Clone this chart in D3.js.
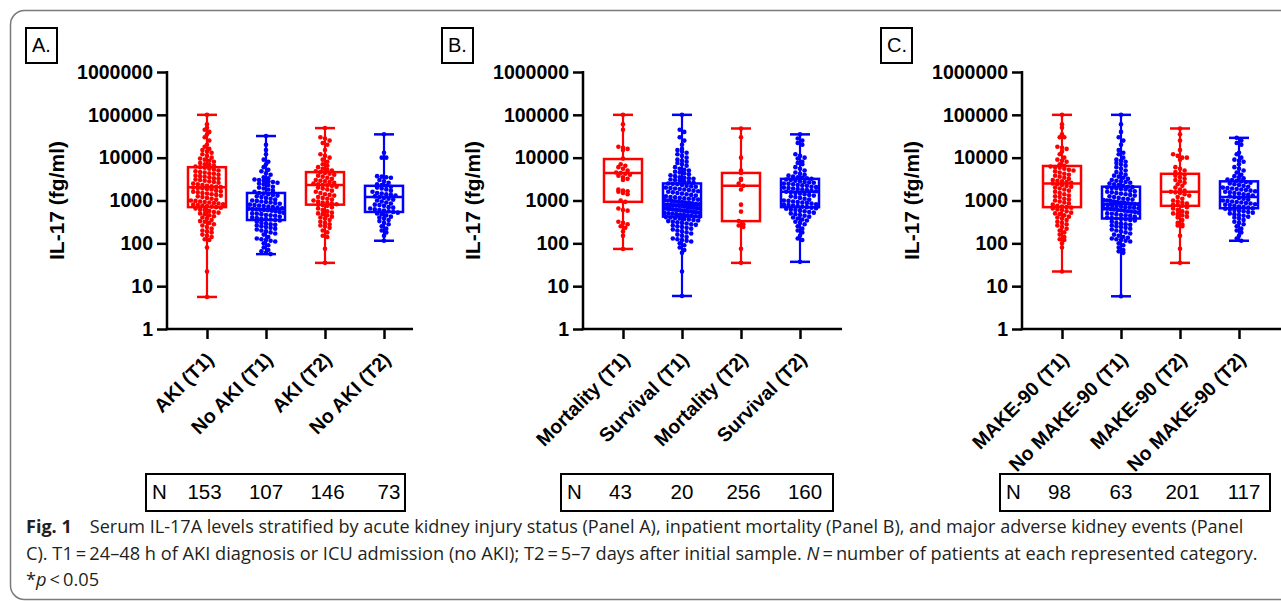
<!DOCTYPE html>
<html><head><meta charset="utf-8">
<script src="https://cdn.jsdelivr.net/npm/d3@7/dist/d3.min.js"></script>
<style>body{margin:0;background:#fff;overflow:hidden} svg{display:block}</style>
</head><body><svg id="chart" width="1281" height="601"></svg>
<script>
// ---------------- DATA ----------------
const panelLetters = ["A.", "B.", "C."];
const categoriesA = ["AKI (T1)", "No AKI (T1)", "AKI (T2)", "No AKI (T2)"];
const categoriesB = ["Mortality (T1)", "Survival (T1)", "Mortality (T2)", "Survival (T2)"];
const categoriesC = ["MAKE-90 (T1)", "No MAKE-90 (T1)", "MAKE-90 (T2)", "No MAKE-90 (T2)"];
const countsA = [153, 107, 146, 73];
const countsB = [43, 20, 256, 160];
const countsC = [98, 63, 201, 117];
const yTickValues = [1, 10, 100, 1000, 10000, 100000, 1000000];
const groupColors = ["#ff0000", "#0000ff", "#ff0000", "#0000ff"];
// box statistics: [min, q1, median, q3, max]
const boxA = [[5.6, 700, 2050, 6000, 100000], [56, 350, 630, 1500, 32000], [35, 800, 2300, 4600, 49000], [115, 540, 1200, 2200, 35000]];
const boxB = [[74, 930, 4400, 9300, 100000], [5.9, 420, 800, 2500, 100000], [35, 330, 2200, 4400, 48000], [37, 700, 1600, 3200, 35000]];
const boxC = [[22, 700, 2500, 6400, 100000], [5.8, 380, 830, 2100, 100000], [35, 750, 1600, 4200, 48000], [115, 660, 1200, 2800, 29000]];
// individual points (fg/ml)
const pointsA1 = [100000,60000,50000,45000,40000,35000,30000,25000,20000,18000,16000,15000,14000,13000,12000,11000,10000,9500,9000,8500,8000,7500,7000,6800,6500,6200,6000,5800,5500,5300,5000,4800,4600,4500,4300,4200,4000,3800,3700,3600,3500,3300,3200,3100,3000,2900,2800,2700,2600,2500,2400,2300,2200,2150,2100,2050,2000,1950,1900,1850,1800,1700,1650,1600,1550,1500,1450,1400,1350,1300,1250,1200,1150,1100,1050,1000,980,950,920,900,870,850,820,800,780,760,740,720,700,680,650,620,600,570,540,520,500,480,450,430,400,380,350,330,320,300,280,260,240,220,200,190,180,160,150,140,125,120,80,22,5.6];
const pointsA2 = [32000,20000,15000,12000,9000,8000,7000,6000,5200,4800,4300,4000,3500,3300,3100,3000,2900,2800,2700,2600,2500,2400,2300,2100,2000,1900,1800,1700,1600,1500,1450,1400,1350,1300,1250,1200,1150,1100,1050,1000,980,950,920,900,870,840,800,780,760,740,720,700,680,660,640,630,620,610,600,590,580,560,540,520,500,490,480,460,450,440,420,400,390,380,370,360,350,340,320,300,290,280,270,260,250,240,230,220,210,200,190,180,170,160,140,130,125,120,115,110,100,90,80,70,65,60,56];
const pointsA3 = [49000,30000,28000,25000,22000,20000,15000,12000,11000,10000,9000,8000,7000,6500,6000,5500,5200,5000,4800,4600,4400,4200,4000,3800,3600,3400,3200,3000,2900,2800,2700,2600,2500,2400,2300,2250,2200,2100,2000,1900,1800,1700,1600,1500,1400,1350,1300,1200,1150,1100,1050,1000,950,900,880,850,820,800,780,750,700,650,600,560,520,500,480,450,420,400,380,350,320,300,280,260,250,230,200,180,150,140,75,35];
const pointsA4 = [35000,13000,10000,10000,3700,3600,3500,3400,3000,2800,2600,2400,2300,2200,2100,2000,1900,1800,1700,1600,1500,1450,1400,1350,1300,1250,1200,1150,1100,1050,1000,950,900,850,800,780,750,700,680,650,620,600,580,560,540,520,500,480,450,420,400,380,350,330,300,280,250,220,200,180,150,115];
const pointsB1 = [100000,60000,45000,18000,17000,16000,15000,9500,7000,6500,6000,5500,5000,4500,4400,4200,4000,3800,3500,3200,3000,1800,1700,1650,1600,1500,1400,1000,930,650,600,580,320,300,280,250,230,190,150,74];
const pointsB2 = [100000,45000,40000,30000,25000,20000,16000,15000,14000,13000,12000,11000,10000,9000,8500,8000,7500,7000,6500,6000,5500,5200,5000,4700,4500,4300,4100,3900,3700,3500,3400,3300,3200,3100,3000,2900,2800,2700,2600,2500,2450,2400,2300,2200,2150,2100,2000,1950,1900,1850,1800,1750,1700,1650,1600,1550,1500,1450,1400,1350,1300,1250,1200,1180,1150,1120,1100,1080,1050,1020,1000,980,960,940,920,900,880,860,840,820,800,790,780,770,760,750,740,720,700,690,680,670,660,650,640,630,620,610,600,590,580,570,560,550,540,530,520,510,500,490,480,470,460,450,440,430,420,410,400,390,380,370,360,350,340,330,320,310,300,290,280,270,260,250,240,230,220,210,200,190,180,170,160,150,140,130,125,120,115,110,100,90,80,70,60,22,5.9];
const pointsB3 = [48000,30000,10000,5000,4400,3200,3000,2500,2200,1800,800,550,330,280,260,240,75,35];
const pointsB4 = [35000,28000,25000,22000,20000,12000,11000,10000,9500,8000,7500,7000,6000,5500,5000,4500,4200,4000,3800,3600,3500,3400,3300,3200,3100,3000,2900,2800,2700,2650,2600,2500,2450,2400,2300,2250,2200,2100,2050,2000,1950,1900,1850,1800,1750,1700,1650,1600,1550,1500,1450,1400,1350,1300,1250,1200,1150,1100,1050,1000,980,950,920,900,880,850,820,800,780,760,740,720,700,680,660,640,620,600,580,560,540,520,500,480,460,440,420,400,380,360,340,320,300,280,250,220,200,180,150,130,120,37];
const pointsC1 = [100000,60000,50000,35000,30000,30000,18000,17000,16000,14000,12000,10000,9000,8500,8000,7000,6500,6200,6000,5800,5500,5200,5000,4800,4500,4200,4000,3800,3600,3400,3200,3000,2900,2800,2700,2600,2500,2400,2300,2200,2100,2000,1900,1800,1700,1600,1500,1400,1300,1250,1200,1100,1050,1000,950,900,850,800,750,720,700,680,650,620,600,560,520,500,480,450,420,400,380,350,320,300,280,260,240,220,200,180,160,140,125,120,100,80,22];
const pointsC2 = [100000,60000,40000,30000,25000,20000,15000,13000,12000,10000,9000,8500,8000,7500,7000,6500,6000,5500,5000,4600,4300,4000,3800,3600,3400,3200,3000,2900,2800,2700,2600,2500,2400,2300,2200,2100,2050,2000,1950,1900,1850,1800,1700,1650,1600,1550,1500,1450,1400,1350,1300,1250,1200,1150,1100,1080,1050,1020,1000,980,950,920,900,880,860,840,830,820,800,780,760,740,720,700,690,680,660,650,640,630,620,600,590,580,560,550,540,520,500,490,480,460,450,440,420,400,390,380,370,360,350,340,320,300,290,280,270,260,250,240,230,220,210,200,190,180,170,160,150,140,135,130,125,120,115,110,100,90,80,70,65,60,5.8];
const pointsC3 = [48000,35000,25000,15000,12000,11000,10000,10000,9000,6000,5500,5000,4600,4200,4000,3800,3500,3200,3000,2800,2600,2400,2200,2000,1800,1700,1600,1550,1500,1400,1300,1200,1100,1000,950,900,850,800,780,750,700,650,600,560,520,500,480,450,420,400,350,300,280,260,250,150,75,35];
const pointsC4 = [29000,25000,22000,20000,13000,12000,10000,9000,8500,8000,7000,6000,5500,5000,4500,4000,3700,3500,3300,3100,3000,2900,2800,2700,2600,2500,2400,2300,2200,2100,2000,1950,1900,1850,1800,1750,1700,1650,1600,1550,1500,1450,1400,1350,1300,1250,1200,1150,1100,1050,1000,980,950,920,900,870,850,820,800,780,750,720,700,680,660,640,620,600,580,560,540,520,500,480,460,440,420,400,380,350,320,300,280,250,220,200,180,150,130,115];
const captionLine1 = "Serum IL-17A levels stratified by acute kidney injury status (Panel A), inpatient mortality (Panel B), and major adverse kidney events (Panel";
const captionLine2a = "C). T1\u2009=\u200924\u201348 h of AKI diagnosis or ICU admission (no AKI); T2\u2009=\u20095\u20137 days after initial sample. ";
const captionLine2b = "\u2009=\u2009number of patients at each represented category.";

// ---------------- LAYOUT ----------------
const svg = d3.select("#chart");
const FONT = "'Liberation Sans', Arial, sans-serif";
const yTop = 72, yBottom = 329;
const y = d3.scaleLog().domain([1, 1e6]).range([yBottom, yTop]);

// outer frame
svg.append("rect").attr("x", 10.5).attr("y", 10.5).attr("width", 1320).attr("height", 589)
  .attr("rx", 14).attr("fill", "none").attr("stroke", "#7a7a7a").attr("stroke-width", 1.5);

const panels = [
  {letter: panelLetters[0], cats: categoriesA, counts: countsA, boxes: boxA, points: [pointsA1, pointsA2, pointsA3, pointsA4], axisX: 167, axisEnd: 413, tableW: 259, tableX: -21},
  {letter: panelLetters[1], cats: categoriesB, counts: countsB, boxes: boxB, points: [pointsB1, pointsB2, pointsB3, pointsB4], axisX: 583, axisEnd: 842, tableW: 272, tableX: -22},
  {letter: panelLetters[2], cats: categoriesC, counts: countsC, boxes: boxC, points: [pointsC1, pointsC2, pointsC3, pointsC4], axisX: 1022, axisEnd: 1290, tableW: 270, tableX: -22}
];

const boxW = 38, capW = 20, rowH = 4.2, dotR = 2.3, maxHalf = 17.5;

panels.forEach(p => {
  const g = svg.append("g");
  const x = d3.scalePoint().domain(p.cats).range([p.axisX + 40, p.axisX + 217]);

  // panel letter box
  g.append("rect").attr("x", p.axisX - 141).attr("y", 28).attr("width", 31).attr("height", 35)
    .attr("fill", "none").attr("stroke", "#000").attr("stroke-width", 2);
  g.append("text").attr("x", p.axisX - 135).attr("y", 52).attr("font-family", FONT)
    .attr("font-size", 20).text(p.letter);

  // y axis
  const yAxis = d3.axisLeft(y).tickValues(yTickValues).tickFormat(d3.format("d")).tickSize(10).tickPadding(4);
  const ya = g.append("g").attr("transform", `translate(${p.axisX},0)`).call(yAxis);
  ya.select(".domain").remove();
  ya.selectAll(".tick line").attr("stroke", "#000").attr("stroke-width", 2.5);
  ya.selectAll(".tick text").attr("font-family", FONT).attr("font-size", 19.5).attr("font-weight", "bold").attr("fill", "#000");
  g.append("line").attr("x1", p.axisX).attr("x2", p.axisX).attr("y1", yTop - 1).attr("y2", yBottom + 1.2)
    .attr("stroke", "#000").attr("stroke-width", 2.5);

  // y title
  g.append("text").attr("transform", `translate(${p.axisX - 110},${(yTop + yBottom) / 2}) rotate(-90)`)
    .attr("text-anchor", "middle").attr("dy", "0.35em").attr("font-family", FONT).attr("font-size", 21)
    .attr("font-weight", "bold").text("IL-17 (fg/ml)");

  // x axis
  g.append("line").attr("x1", p.axisX - 1.2).attr("x2", p.axisEnd).attr("y1", yBottom).attr("y2", yBottom)
    .attr("stroke", "#000").attr("stroke-width", 2.5);
  const xa = d3.axisBottom(x).tickSize(10).tickFormat("");
  const xg = g.append("g").attr("transform", `translate(0,${yBottom})`).call(xa);
  xg.select(".domain").remove();
  xg.selectAll(".tick line").attr("stroke", "#000").attr("stroke-width", 2.5);
  g.selectAll(".xlab").data(p.cats).join("text")
    .attr("transform", d => `translate(${x(d) + 3},356) rotate(-45)`)
    .attr("text-anchor", "end").attr("dy", "0.35em").attr("font-family", FONT).attr("font-size", 19.5)
    .attr("font-weight", "bold").text(d => d);

  // points (column scatter arranged in rows)
  p.cats.forEach((c, i) => {
    const cx = x(c);
    const pts = p.points[i].map(v => ({v, py: y(v)}));
    const rows = d3.group(pts, d => Math.round((d.py - yTop) / rowH));
    rows.forEach(arr => {
      const n = arr.length;
      const s = n > 1 ? Math.min(4.6, (2 * maxHalf) / (n - 1)) : 0;
      arr.forEach((d, k) => { d.px = cx + (k - (n - 1) / 2) * s; });
    });
    g.append("g").selectAll("circle").data(pts).join("circle")
      .attr("cx", d => d.px).attr("cy", d => d.py).attr("r", dotR).attr("fill", groupColors[i]);

    // box & whiskers
    const [mn, q1, md, q3, mx] = p.boxes[i];
    const col = groupColors[i];
    const bg = g.append("g").attr("stroke", col).attr("fill", "none");
    bg.append("line").attr("x1", cx).attr("x2", cx).attr("y1", y(mx)).attr("y2", y(q3)).attr("stroke-width", 2.2);
    bg.append("line").attr("x1", cx).attr("x2", cx).attr("y1", y(q1)).attr("y2", y(mn)).attr("stroke-width", 2.2);
    bg.append("line").attr("x1", cx - capW / 2).attr("x2", cx + capW / 2).attr("y1", y(mx)).attr("y2", y(mx)).attr("stroke-width", 2.5);
    bg.append("line").attr("x1", cx - capW / 2).attr("x2", cx + capW / 2).attr("y1", y(mn)).attr("y2", y(mn)).attr("stroke-width", 2.5);
    bg.append("rect").attr("x", cx - boxW / 2).attr("y", y(q3)).attr("width", boxW).attr("height", y(q1) - y(q3)).attr("stroke-width", 2.5);
    bg.append("line").attr("x1", cx - boxW / 2).attr("x2", cx + boxW / 2).attr("y1", y(md)).attr("y2", y(md)).attr("stroke-width", 2.5);
  });

  // N table
  const tx = p.axisX + p.tableX;
  g.append("rect").attr("x", tx).attr("y", 474).attr("width", p.tableW).attr("height", 37)
    .attr("fill", "none").attr("stroke", "#000").attr("stroke-width", 2);
  g.append("text").attr("x", tx + 6).attr("y", 499).attr("font-family", FONT).attr("font-size", 20.5).text("N");
  g.selectAll(".nval").data(p.counts).join("text")
    .attr("x", (d, i) => x(p.cats[i]) + (i - 1) * 2.5).attr("y", 499).attr("text-anchor", "middle")
    .attr("font-family", FONT).attr("font-size", 20.5).text(d => d);
});

// ---------------- CAPTION ----------------
const CF = "'Open Sans', 'Noto Sans', sans-serif";
const CS = 18;
function fitLine(t, x0, target) {
  const w = t.node().getComputedTextLength();
  const s = target / w;
  t.attr("transform", `translate(${x0},0) scale(${s},1) translate(${-x0},0)`);
  return s;
}
const l1 = svg.append("text").attr("x", 26).attr("y", 533).attr("font-family", CF).attr("font-size", CS).attr("fill", "#231f20");
l1.append("tspan").attr("font-weight", "bold").text("Fig.\u00a01");
l1.append("tspan").text("\u2003" + captionLine1);
fitLine(l1, 26, 1219);
const l2 = svg.append("text").attr("x", 26).attr("y", 560).attr("font-family", CF).attr("font-size", CS).attr("fill", "#231f20");
l2.append("tspan").text(captionLine2a);
l2.append("tspan").attr("font-style", "italic").text("N");
l2.append("tspan").text(captionLine2b);
const s2 = fitLine(l2, 26, 1232);
const l3 = svg.append("text").attr("x", 26).attr("y", 586).attr("font-family", CF).attr("font-size", CS).attr("fill", "#231f20");
l3.append("tspan").text("*");
l3.append("tspan").attr("font-style", "italic").text("p");
l3.append("tspan").text("\u2009<\u20090.05");
l3.attr("transform", `translate(26,0) scale(${s2},1) translate(-26,0)`);
</script>
</body></html>
